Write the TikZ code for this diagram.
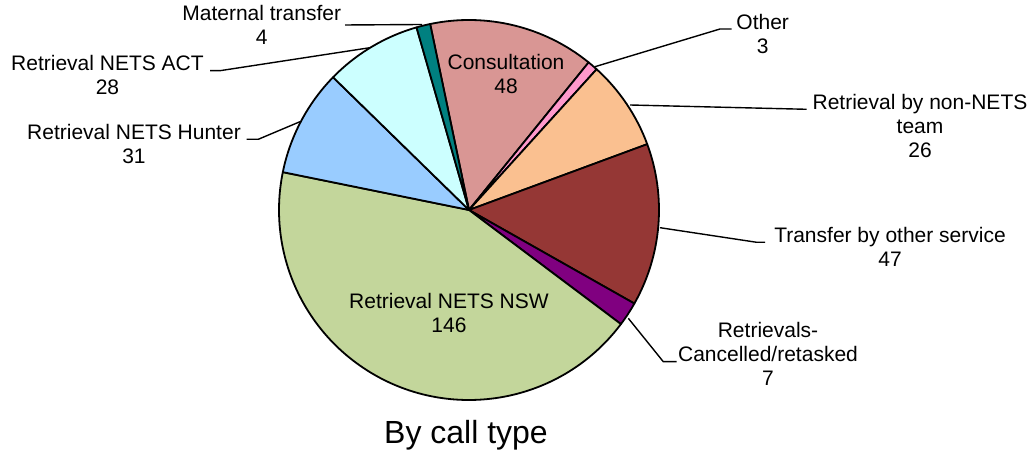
\documentclass[tikz,border=0pt]{standalone}
\usepackage{fontspec}
\setmainfont{Liberation Sans}
\definecolor{consult}{HTML}{D99694}
\definecolor{other}{HTML}{FF99CC}
\definecolor{nonnets}{HTML}{FAC090}
\definecolor{transfer}{HTML}{953735}
\definecolor{cancel}{HTML}{800080}
\definecolor{nsw}{HTML}{C3D69B}
\definecolor{hunter}{HTML}{99CCFF}
\definecolor{act}{HTML}{CCFFFF}
\definecolor{maternal}{HTML}{008080}
\begin{document}
\begin{tikzpicture}[x=1pt,y=1pt,
  slice/.style={draw=black,line width=1.8pt,line join=round},
  lbl/.style={font=\fontsize{21}{24}\selectfont,align=center,anchor=base,inner sep=0pt},
  leader/.style={draw=black,line width=1.4pt}]
\useasboundingbox (0,0) rectangle (1036,454);
\coordinate (c) at (469,244);
\foreach \a/\b/\col in {101.8/50.976/consult, 50.976/47.8/other, 47.8/20.271/nonnets,
  20.271/-29.494/transfer, -29.494/-36.906/cancel, -36.906/-191.494/nsw,
  -191.494/-224.318/hunter, -224.318/-253.965/act, -253.965/-258.2/maternal}
{
  \filldraw[slice,fill=\col] (c) -- ++(\a:190) arc[start angle=\a,end angle=\b,radius=190] -- cycle;
}
% labels (anchor = baseline of last line)
\node[lbl] (lcons) at (506,360) {Consultation\\48};
\node[lbl] (lnsw) at (449,121.3) {Retrieval NETS NSW\\146};
\node[lbl] (lmat) at (261.7,409) {Maternal transfer\\4};
\node[lbl] (lact) at (107.5,359) {Retrieval NETS ACT\\28};
\node[lbl] (lhun) at (134,290.7) {Retrieval NETS Hunter\\31};
\node[lbl] (loth) at (762.7,400.7) {Other\\3};
\node[lbl] (lnon) at (920,296) {Retrieval by non-NETS\\team\\26};
\node[lbl] (ltra) at (890,187.3) {Transfer by other service\\47};
\node[lbl] (lcan) at (768,68) {Retrievals-\\Cancelled/retasked\\7};
\node[font=\fontsize{32}{36}\selectfont,anchor=base,inner sep=0pt] (title) at (466,10) {By call type};
% leader lines
\coordinate (pmat) at (422,429.5);
\coordinate (smat) at (345,429);
\coordinate (pact) at (370,406.3);
\coordinate (kact) at (220,383.3);
\coordinate (sact) at (210,383.3);
\coordinate (phun) at (300,332.3);
\coordinate (khun) at (258.3,314.7);
\coordinate (shun) at (246.7,314.7);
\coordinate (poth) at (595,387.3);
\coordinate (koth) at (720,425);
\coordinate (soth) at (731.7,425);
\coordinate (pnon) at (630,349);
\coordinate (snon) at (806.7,344.7);
\coordinate (ptra) at (660,226.3);
\coordinate (ktra) at (756.7,211.7);
\coordinate (stra) at (765,211.7);
\coordinate (pcan) at (628.3,135.7);
\coordinate (kcan) at (663.3,92.3);
\coordinate (scan) at (676.7,92.3);
\draw[leader] (smat) -- (pmat);
\draw[leader] (sact) -- (kact) -- (pact);
\draw[leader] (shun) -- (khun) -- (phun);
\draw[leader] (poth) -- (koth) -- (soth);
\draw[leader] (pnon) -- (snon);
\draw[leader] (ptra) -- (ktra) -- (stra);
\draw[leader] (pcan) -- (kcan) -- (scan);
\end{tikzpicture}
\end{document}
